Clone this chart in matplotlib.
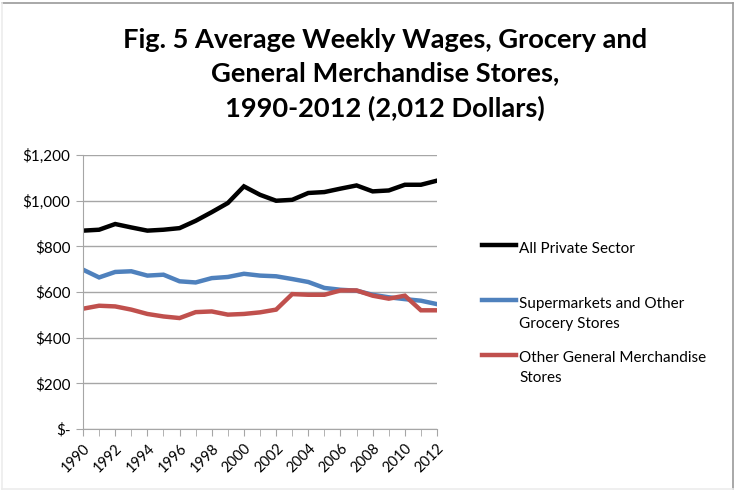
import matplotlib.pyplot as plt
import numpy as np
from matplotlib.lines import Line2D
from matplotlib.ticker import FuncFormatter

years = list(range(1990, 2013))
all_private = [869, 873, 898, 883, 869, 873, 880, 912, 950, 990, 1063, 1026,
               1000, 1004, 1034, 1038, 1053, 1067, 1041, 1045, 1070, 1070, 1088]
grocery = [698, 664, 688, 691, 672, 676, 647, 642, 661, 666, 680, 672,
           669, 657, 644, 618, 610, 606, 588, 577, 569, 562, 547]
merchandise = [527, 540, 537, 523, 504, 493, 486, 512, 515, 501, 504, 511,
               523, 591, 588, 588, 607, 607, 584, 571, 584, 520, 520]

series_names = ["All Private Sector", "Supermarkets and Other\nGrocery Stores",
                "Other General Merchandise\nStores"]
series_colors = ["#000000", "#4f81bd", "#c0504d"]

plt.rcParams['font.family'] = ['Lato', 'DejaVu Sans']

W, H = 734, 490
fig = plt.figure(figsize=(W / 100, H / 100), dpi=100)
ax = fig.add_axes([0.1131, 0.1245, 0.4823, 0.559])

for vals, col in zip([all_private, grocery, merchandise], series_colors):
    ax.plot(years, vals, color=col, lw=3.2, solid_joinstyle='miter')

ax.set_xlim(1990, 2012)
ax.set_ylim(0, 1200)
ax.set_yticks(np.arange(0, 1201, 200))
ax.yaxis.set_major_formatter(FuncFormatter(lambda v, p: "$-" if v == 0 else f"${v:,.0f}"))
ax.set_xticks(years, minor=True)
ax.set_xticks(years[::2])
ax.set_xticklabels([str(y) for y in years[::2]], rotation=45, ha='right',
                   rotation_mode='anchor', fontsize=10.5)
ax.tick_params(axis='y', labelsize=11, length=5, color='#a6a6a6', pad=4)
ax.tick_params(axis='x', which='both', length=5, color='#a6a6a6', pad=4)
ax.grid(axis='y', color='#a6a6a6', lw=1)
ax.set_axisbelow(True)
for side in ['top', 'right']:
    ax.spines[side].set_visible(False)
for side in ['left', 'bottom']:
    ax.spines[side].set_color('#a6a6a6')

fig.text(0.525, 0.848, "Fig. 5 Average Weekly Wages, Grocery and\nGeneral Merchandise Stores,\n1990-2012 (2,012 Dollars)",
         ha='center', va='center', fontsize=19.6, fontweight='bold', linespacing=1.5)

# legend laid out by hand (pixel rows from the top of the figure)
handle_rows = [245, 300, 355]
first_baselines = [253, 308, 362]
for name, col, hy, by in zip(series_names, series_colors, handle_rows, first_baselines):
    fig.add_artist(Line2D([482 / W, 516 / W], [1 - hy / H, 1 - hy / H],
                          color=col, lw=3.2, transform=fig.transFigure))
    for i, part in enumerate(name.split("\n")):
        fig.text(519 / W, 1 - (by + 20 * i) / H, part, ha='left', va='baseline',
                 fontsize=11)

# frame around the whole chart: darker on top/right, faint on left/bottom
def frame_line(xs, ys, col):
    fig.add_artist(Line2D([x / W for x in xs], [1 - y / H for y in ys],
                          color=col, lw=1.2, transform=fig.transFigure))

frame_line([2, 733], [3.5, 3.5], '#9a9a9a')
frame_line([733, 733], [3.5, 489], '#9a9a9a')
frame_line([2, 2], [3.5, 489], '#ececec')
frame_line([2, 733], [489, 489], '#ececec')

fig.savefig("out.png", dpi=100)
